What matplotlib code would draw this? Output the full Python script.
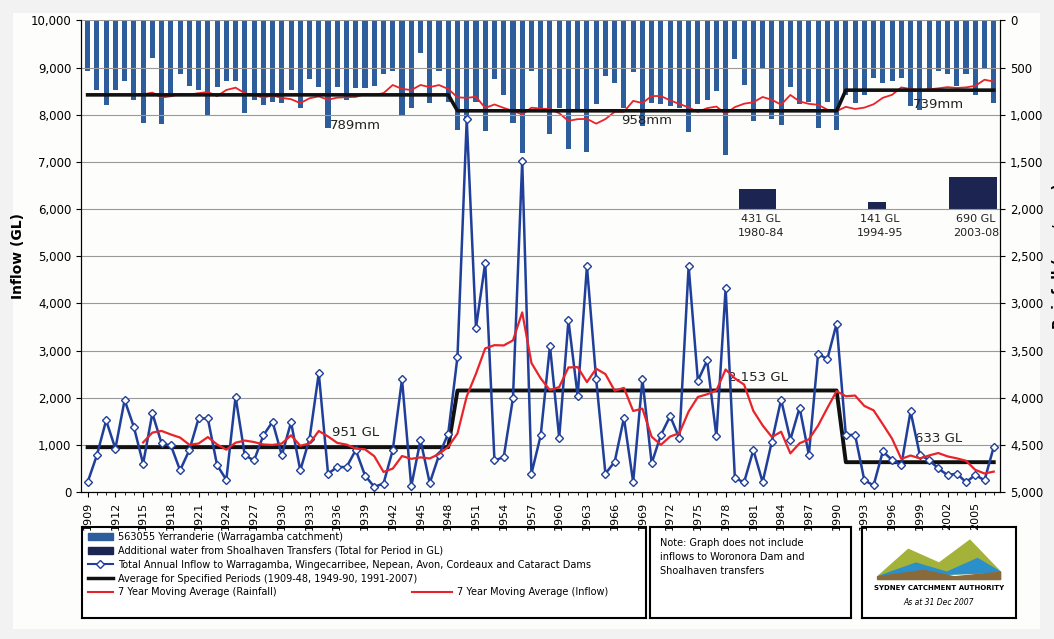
import numpy as np
import pandas as pd
import matplotlib
matplotlib.use("Agg")
import matplotlib.pyplot as plt
from matplotlib.lines import Line2D
from matplotlib.patches import Patch, Rectangle, Polygon

years = list(range(1909, 2008))
inflow = [210, 780, 1520, 920, 1950, 1380, 600, 1670, 1030, 990,
          460, 890, 1560, 1560, 570, 260, 2020, 780, 670, 1200,
          1490, 780, 1480, 460, 1130, 2520, 390, 530, 530, 890,
          350, 110, 180, 890, 2390, 120, 1100, 190, 780, 1240,
          2870, 7900, 3480, 4860, 670, 740, 1990, 7020, 390, 1200,
          3100, 1150, 3640, 2040, 4790, 2390, 390, 640, 1570, 210,
          2390, 610, 1210, 1610, 1140, 4790, 2360, 2790, 1180, 4320,
          290, 210, 890, 210, 1070, 1960, 1110, 1790, 790, 2930,
          2820, 3570, 1210, 1210, 250, 140, 860, 680, 570, 1710,
          790, 680, 500, 360, 390, 210, 360, 250, 960]
rain = [535, 740, 900, 740, 640, 845, 1090, 400, 1100, 810,
        570, 690, 740, 1000, 710, 640, 640, 980, 845, 900,
        860, 880, 740, 930, 620, 710, 1140, 710, 845, 720,
        720, 690, 570, 535, 1000, 930, 345, 880, 535, 860,
        1160, 1030, 860, 1170, 620, 790, 1090, 1410, 535, 930,
        1200, 930, 1360, 960, 1390, 890, 590, 660, 930, 550,
        1120, 870, 890, 910, 930, 1180, 890, 840, 750, 1430,
        410, 680, 1070, 500, 1050, 1110, 710, 890, 860, 1140,
        860, 1160, 790, 870, 790, 610, 660, 640, 610, 910,
        950, 730, 540, 570, 700, 570, 790, 500, 870]
period_starts = [1909, 1949, 1991]
period_ends = [1948, 1990, 2007]
avg_inflow = [951, 2153, 633]
avg_rain = [789, 958, 739]
transfer_gl = [431, 141, 690]
transfer_labels = ["431 GL\n1980-84", "141 GL\n1994-95", "690 GL\n2003-08"]
transfer_start = [1979.5, 1993.4, 2002.2]
transfer_end = [1983.5, 1995.3, 2007.4]

yrs = np.array(years)
s_in = pd.Series(inflow, index=years)
s_rn = pd.Series(rain, index=years)
ma_in = s_in.rolling(7).mean()
ma_rn = s_rn.rolling(7).mean()
avg_in_yr = np.zeros(len(years)); avg_rn_yr = np.zeros(len(years))
for a, b, vi, vr in zip(period_starts, period_ends, avg_inflow, avg_rain):
    m = (yrs >= a) & (yrs <= b)
    avg_in_yr[m] = vi; avg_rn_yr[m] = vr

fig = plt.figure(figsize=(10.54, 6.39), dpi=100, facecolor="#f2f2f2")
fig.patches.append(Rectangle((0.012, 0.015), 0.975, 0.965, transform=fig.transFigure,
                             facecolor="#fdfdfb", edgecolor="none", zorder=-10))
ax = fig.add_axes([0.077, 0.23, 0.872, 0.738])
ax.set_facecolor("#fdfdfb")
ax2 = ax.twinx()
ax.set_zorder(2); ax2.set_zorder(1); ax.patch.set_visible(False)

blue = "#2e5d9c"
ax2.bar(yrs, rain, width=0.55, color=blue, zorder=2)
for g, a, b in zip(transfer_gl, transfer_start, transfer_end):
    ax2.bar((a + b) / 2, g * 0.5, width=b - a, bottom=2000 - g * 0.5, color="#1c2552", zorder=2)
ax2.plot(yrs, ma_rn, color="#e8232a", lw=1.3, zorder=3)
ax2.plot(yrs, avg_rn_yr, color="#111111", lw=2.6, zorder=3)
ax2.set_ylim(5000, 0)
ax2.set_yticks(range(0, 5001, 500))
ax2.set_yticklabels([f"{v:,}" for v in range(0, 5001, 500)], fontsize=8.5)
ax2.set_ylabel("Rainfall (mm/year)", fontsize=10, fontweight="bold", labelpad=6)

ax.grid(axis="y", color="#999999", lw=0.8)
ax.set_axisbelow(True)
ax.plot(yrs, inflow, color="#1f3f9a", lw=1.8, marker="D", ms=4.5, mfc="white",
        mec="#1f3f9a", mew=1.0, zorder=4)
ax.plot(yrs, ma_in, color="#e8232a", lw=1.6, zorder=5)
ax.plot(yrs, avg_in_yr, color="#111111", lw=2.8, zorder=3)
ax.set_ylim(0, 10000)
ax.set_xlim(1908.3, 2007.7)
ax.set_yticks(range(0, 10001, 1000))
ax.set_yticklabels([f"{v:,}" for v in range(0, 10001, 1000)], fontsize=8.5)
ax.set_ylabel("Inflow (GL)", fontsize=10, fontweight="bold")
ax.set_xticks(range(1909, 2008, 3))
ax.set_xticks(range(1909, 2008), minor=True)
ax.set_xticklabels([str(y) for y in range(1909, 2008, 3)], rotation=90, fontsize=8)
ax.spines["top"].set_visible(False); ax2.spines["top"].set_visible(False)

for txt, x, y in [("789mm", 1938, 7700), ("958mm", 1969.5, 7800), ("739mm", 2001, 8150)]:
    ax.text(x, y, txt, ha="center", fontsize=9.5, color="#222222")
for txt, x, y in [("951 GL", 1938, 1180), ("2,153 GL", 1981.5, 2350), ("633 GL", 2001, 1070)]:
    ax.text(x, y, txt, ha="center", fontsize=9.5, color="#222222")
for lab, a, b in zip(transfer_labels, transfer_start, transfer_end):
    ax2.text((a + b) / 2 + 0.3, 2050, lab, ha="center", va="top", fontsize=8, color="#222222",
             linespacing=1.5)

handles = [Patch(color=blue), Patch(color="#1c2552"),
           Line2D([], [], color="#1f3f9a", marker="D", mfc="white", ms=4),
           Line2D([], [], color="#111111", lw=2.5),
           Line2D([], [], color="#e8232a", lw=1.5)]
labels = ["563055 Yerranderie (Warragamba catchment)",
          "Additional water from Shoalhaven Transfers (Total for Period in GL)",
          "Total Annual Inflow to Warragamba, Wingecarribee, Nepean, Avon, Cordeaux and Cataract Dams",
          "Average for Specified Periods (1909-48, 1949-90, 1991-2007)",
          "7 Year Moving Average (Rainfall)"]
box_y, box_h = 0.033, 0.143
lax = fig.add_axes([0.078, box_y, 0.535, box_h])
lax.set_xticks([]); lax.set_yticks([])
for s in lax.spines.values(): s.set_linewidth(1.5)
lax.legend(handles, labels, loc="upper left", fontsize=7, frameon=False, borderaxespad=0.15,
           handlelength=2.6, labelspacing=0.4, handletextpad=0.5)
lax.plot([0.585, 0.655], [0.285, 0.285], color="#e8232a", lw=1.5, transform=lax.transAxes)
lax.text(0.665, 0.285, "7 Year Moving Average (Inflow)", fontsize=7, va="center", transform=lax.transAxes)

nax = fig.add_axes([0.617, box_y, 0.19, box_h])
nax.set_xticks([]); nax.set_yticks([])
for s in nax.spines.values(): s.set_linewidth(1.5)
nax.text(0.05, 0.88, "Note: Graph does not include\ninflows to Woronora Dam and\nShoalhaven transfers",
         fontsize=7, va="top", transform=nax.transAxes, linespacing=1.5)

gax = fig.add_axes([0.818, box_y, 0.146, box_h])
gax.set_xticks([]); gax.set_yticks([]); gax.set_xlim(0, 1); gax.set_ylim(0, 1)
for s in gax.spines.values(): s.set_linewidth(1.5)
gax.add_patch(Polygon([[0.1, 0.45], [0.3, 0.75], [0.5, 0.6], [0.7, 0.85], [0.9, 0.5]], color="#a5b23a"))
gax.add_patch(Polygon([[0.1, 0.45], [0.35, 0.6], [0.55, 0.5], [0.75, 0.65], [0.9, 0.5]], color="#2b8fc9"))
gax.add_patch(Polygon([[0.1, 0.45], [0.4, 0.52], [0.6, 0.45], [0.9, 0.5], [0.9, 0.42], [0.1, 0.42]], color="#8a6a3a"))
gax.text(0.5, 0.3, "SYDNEY CATCHMENT AUTHORITY", ha="center", fontsize=5, fontweight="bold")
gax.text(0.5, 0.14, "As at 31 Dec 2007", ha="center", fontsize=5.5, style="italic")

fig.savefig("out.png", dpi=100, facecolor=fig.get_facecolor())
